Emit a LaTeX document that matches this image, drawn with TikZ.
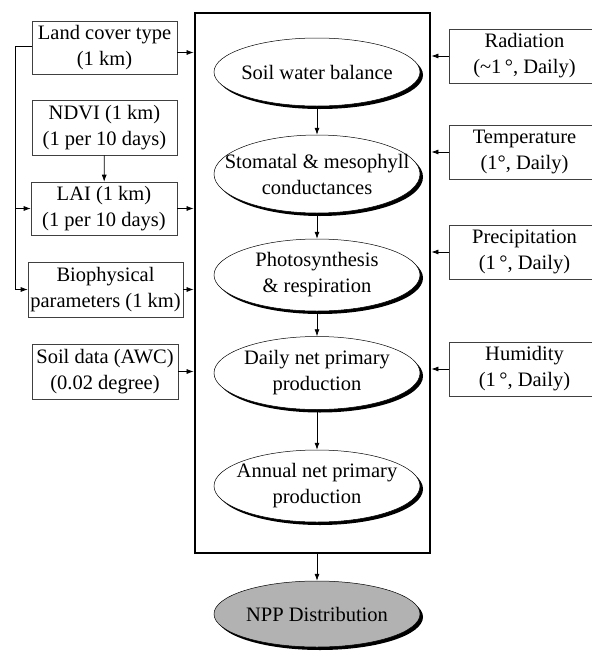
\documentclass[tikz,border=0pt]{standalone}
\usepackage{fontspec}
\setmainfont{Liberation Serif}
\usetikzlibrary{arrows.meta,shapes.geometric,shadows}
\begin{document}
\begin{tikzpicture}[x=1pt,y=-1pt,
  every node/.style={font=\fontsize{20.5}{26}\selectfont, align=center, inner sep=0pt},
  inbox/.style={draw=black!75, line width=0.6pt, fill=white},
  mainbox/.style={draw=black, line width=2.8pt},
  proc/.style={ellipse, draw=black, line width=0.5pt, fill=white,
     minimum width=206pt,
     drop shadow={shadow xshift=3pt, shadow yshift=-3pt, fill=black, opacity=1}},
  npp/.style={proc, fill=black!30},
  lbl/.style={},
  arr/.style={line width=0.7pt, -{Latex[length=7pt,width=5pt]}},
]
\useasboundingbox (0,0) rectangle (592,651);

% main box
\node[mainbox, minimum width=235pt, minimum height=540pt] (main) at (312.5,283) {};

% ellipses
\node[proc, minimum height=68pt] (e1) at (317,72) {};
\node[lbl] (t1) at (e1) {Soil water balance};
\node[proc, minimum height=78pt] (e2) at (317,174) {};
\node[lbl] (t2) at (e2) {Stomatal \& mesophyll\\conductances};
\node[proc, minimum height=72pt] (e3) at (317,275) {};
\node[lbl] (t3) at (e3) {Photosynthesis\\\& respiration};
\node[proc, minimum height=73pt] (e4) at (317,373) {};
\node[lbl] (t4) at (e4) {Daily net primary\\production};
\node[proc, minimum height=72pt] (e5) at (317,486) {};
\node[lbl] (t5) at (e5) {Annual net primary\\production};
\node[npp, minimum height=66pt] (npp) at (317,614) {};
\node[lbl] (t6) at (npp) {NPP Distribution};

\draw[arr] (e1) -- (e2);
\draw[arr] (e2) -- (e3);
\draw[arr] (e3) -- (e4);
\draw[arr] (e4) -- (e5);
\draw[arr] (main.south -| npp) -- (npp);

% left boxes
\node[inbox, minimum width=145pt, minimum height=53pt] (lc) at (104.5,47.5) {Land cover type\\(1 km)};
\node[inbox, minimum width=145pt, minimum height=55pt] (ndvi) at (104.5,127.5) {NDVI (1 km)\\(1 per 10 days)};
\node[inbox, minimum width=146pt, minimum height=53pt] (lai) at (104,208.5) {LAI (1 km)\\(1 per 10 days)};
\node[inbox, minimum width=155pt, minimum height=55pt] (bio) at (105.5,289.5) {Biophysical\\parameters (1 km)};
\node[inbox, minimum width=146pt, minimum height=55pt] (soil) at (105,371.5) {Soil data (AWC)\\(0.02 degree)};

\coordinate (bt) at (15,46);
\draw[line width=0.6pt] (lc.west |- bt) -- (bt) -- (bt |- bio.west);
\draw[arr] (bt |- lai.west) -- (lai.west);
\draw[arr] (bt |- bio.west) -- (bio.west);
\draw[arr] (ndvi) -- (lai);

\draw[arr] ([yshift=-5pt]lc.east) -- ([yshift=-5pt]lc.east -| main.west);
\draw[arr] (lai.east) -- (lai.east -| main.west);
\draw[arr] (bio.east) -- (bio.east -| main.west);
\draw[arr] (soil.east) -- (soil.east -| main.west);

% right boxes
\node[inbox, minimum width=151pt, minimum height=54pt] (rad) at (524.5,56) {Radiation\\(\textasciitilde1\,\textdegree, Daily)};
\node[inbox, minimum width=151pt, minimum height=54pt] (temp) at (524.5,152) {Temperature\\(1\textdegree, Daily)};
\node[inbox, minimum width=151pt, minimum height=54pt] (prec) at (524.5,252) {Precipitation\\(1\,\textdegree, Daily)};
\node[inbox, minimum width=151pt, minimum height=54pt] (hum) at (524.5,369) {Humidity\\(1\,\textdegree, Daily)};

\draw[arr] (rad.west) -- (rad.west -| main.east);
\draw[arr] (temp.west) -- (temp.west -| main.east);
\draw[arr] (prec.west) -- (prec.west -| main.east);
\draw[arr] (hum.west) -- (hum.west -| main.east);
\end{tikzpicture}
\end{document}
